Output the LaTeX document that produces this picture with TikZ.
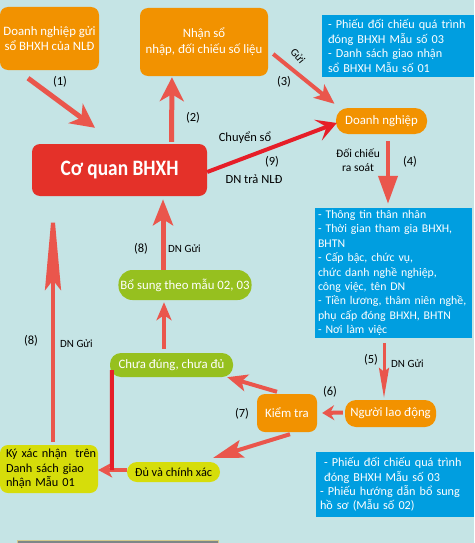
\documentclass[tikz,border=0pt]{standalone}
\usepackage{fontspec}
\setmainfont{Carlito}
\newfontfamily\cqfont{Carlito}[FakeStretch=0.88]
\usetikzlibrary{arrows.meta}
\definecolor{bgc}{RGB}{197,228,229}
\definecolor{orc}{RGB}{242,146,0}
\definecolor{redc}{RGB}{228,49,41}
\definecolor{bluec}{RGB}{0,158,224}
\definecolor{greenc}{RGB}{150,192,31}
\definecolor{yelc}{RGB}{214,221,10}
\definecolor{arrc}{RGB}{234,86,76}
\definecolor{darkr}{RGB}{230,30,40}
\definecolor{barc}{RGB}{125,135,135}
\definecolor{barb}{RGB}{210,200,140}
\tikzset{
  box/.style={rounded corners=8pt, inner sep=2pt, align=center, text=white},
  obox/.style={box, fill=orc},
  gbox/.style={box, fill=greenc, rounded corners=11pt},
  ybox/.style={box, fill=yelc, text=black},
  bbox/.style={fill=bluec, text=white, align=left, inner sep=0pt,
    font=\fontsize{12.2}{14.4}\selectfont},
  lbl/.style={font=\fontsize{12.5}{14}\selectfont, text=black, inner sep=0pt},
  slbl/.style={font=\fontsize{11}{14}\selectfont, text=black, inner sep=0pt},
  fat/.style={draw=arrc, line width=5pt, -{Stealth[length=24pt,width=24pt,inset=7pt]}},
  med/.style={draw=arrc, line width=4pt, -{Stealth[length=20pt,width=17pt,inset=5pt]}},
  thin/.style={draw=arrc, line width=3pt, -{Stealth[length=30pt,width=10pt,inset=4pt]}},
}
\begin{document}
\begin{tikzpicture}[x=1pt,y=-1pt]
\useasboundingbox (0,0) rectangle (474,543);
\fill[bgc] (0,0) rectangle (474,543);
\filldraw[fill=barc, draw=barb, line width=0.8pt] (17,540.5) rectangle (218,545);

% nodes
\node[obox, minimum width=99pt, minimum height=63pt, font=\fontsize{12.8}{15}\selectfont] (dn1) at (49.5,38.5) {Doanh nghiệp gửi\\sổ BHXH của NLĐ};
\node[obox, minimum width=128pt, minimum height=68pt, font=\fontsize{12.8}{16}\selectfont] (nhan) at (204,42) {Nhận sổ\\nhập, đối chiếu số liệu};
\node[bbox, minimum width=152pt, minimum height=62pt, text width=140pt] (b1) at (398,46) {- Phiếu đối chiếu quá trình\\đóng BHXH Mẫu số 03\\- Danh sách giao nhận\\sổ BHXH Mẫu số 01};
\node[obox, rounded corners=12pt, minimum width=91pt, minimum height=26pt, font=\fontsize{12.8}{14}\selectfont] (dn) at (381.5,121) {Doanh nghiệp};
\node[box, fill=redc, minimum width=175pt, minimum height=52pt, font=\cqfont\bfseries\fontsize{22}{24}\selectfont] (cq) at (119.5,170) {Cơ quan BHXH};
\node[bbox, minimum width=157pt, minimum height=130pt, text width=151pt, font=\fontsize{11.8}{14.4}\selectfont] (info) at (393.5,273) {- Thông tin thân nhân\\- Thời gian tham gia BHXH,\\BHTN\\- Cấp bậc, chức vụ,\\chức danh nghề nghiệp,\\công việc, tên DN\\- Tiền lương, thâm niên nghề,\\phụ cấp đóng BHXH, BHTN\\- Nơi làm việc};
\node[obox, rounded corners=11pt, minimum width=91pt, minimum height=27pt, font=\fontsize{12.8}{14}\selectfont] (nld) at (390.5,413.5) {Người lao động};
\node[obox, minimum width=60pt, minimum height=38pt, font=\fontsize{12.8}{14}\selectfont] (kt) at (287,413) {Kiểm tra};
\node[gbox, minimum width=123pt, minimum height=24pt, font=\fontsize{12.8}{14}\selectfont] (chua) at (171.5,365) {Chưa đúng, chưa đủ};
\node[gbox, rounded corners=14pt, minimum width=130pt, minimum height=30pt, font=\fontsize{12.8}{14}\selectfont] (bs) at (185,285) {Bổ sung theo mẫu 02, 03};
\node[ybox, rounded corners=10pt, minimum width=93pt, minimum height=20pt, font=\fontsize{12.3}{14}\selectfont] (du) at (173.5,472) {Đủ và chính xác};
\node[ybox, align=left, minimum width=98pt, minimum height=48pt, text width=86pt, font=\fontsize{12.3}{14.5}\selectfont] (ky) at (49,469) {\mbox{Ký xác nhận\ \ trên}\\Danh sách giao\\nhận Mẫu 01};
\node[bbox, minimum width=158pt, minimum height=65pt, text width=150pt] (b2) at (395,484.5) {\ - Phiếu đối chiếu quá trình\\\ đóng BHXH Mẫu số 03\\- Phiếu hướng dẫn bổ sung\\hồ sơ (Mẫu số 02)};

% connectors
\draw[fat] ([shift={(-21.5,8)}]dn1.south) -- ([shift={(-24.5,-16)}]cq.north);
\draw[fat] ([shift={(52,-2)}]cq.north) -- ([shift={(-32,1)}]nhan.south);
\draw[med] ([shift={(5,12)}]nhan.east) -- ([shift={(-47,-4)}]dn.north);
\draw[draw=darkr, line width=4pt, -{Stealth[length=20pt,width=22pt,inset=9pt]}] ([shift={(0,2)}]cq.east) -- ([shift={(1,2)}]dn.west);
\draw[med, -{Triangle[length=28pt,width=19pt]}] ([shift={(6.5,7)}]dn.south) -- ([shift={(-5.5,-4)}]info.north);
\draw[thin] ([shift={(-9.5,5)}]info.south) -- ([shift={(-6.5,-2)}]nld.north);
\draw[med, -{Stealth[length=12pt,width=15pt,inset=4pt]}] ([shift={(-2,-1)}]nld.west) -- ([shift={(5,0)}]kt.east);
\draw[med] ([shift={(-10,-2)}]kt.north) -- ([shift={(-6,0)}]chua.south east);
\draw[med, -{Stealth[length=30pt,width=18pt,inset=6pt]}] ([shift={(3,2)}]kt.south) -- ([shift={(-7,-4)}]du.north east);
\draw[med, -{Stealth[length=18pt,width=15pt,inset=5pt]}] ([shift={(-7.5,-4)}]chua.north) -- ([shift={(-21,2)}]bs.south);
\draw[fat, -{Stealth[length=26pt,width=20pt,inset=6pt]}] ([shift={(-22,0)}]bs.north) -- ([shift={(43.5,3)}]cq.south);
\draw[thin, line width=4pt, -{Stealth[length=90pt,width=16pt,inset=10pt]}] ([shift={(4,-3)}]ky.north) -- ([shift={(-66.5,4)}]cq.south);
\draw[med, -{Stealth[length=14pt,width=15pt,inset=4pt]}] ([shift={(0,-2)}]du.west) -- ([shift={(0,1)}]ky.east);
\coordinate (corner) at (112,470);
\draw[darkr, line width=4pt] ([shift={(2,-7)}]chua.south west) -- (corner);

% labels
\node[lbl] (l1) at (60,82) {(1)};
\node[lbl] (l2) at (193,118) {(2)};
\node[lbl] (l3) at (284,82) {(3)};
\node[slbl, rotate=-50] (lg) at (298,56) {Gửi};
\node[lbl] (lcs) at (245,138) {Chuyển sổ};
\node[lbl] (l9) at (272,162) {(9)};
\node[lbl] (ltra) at (254,179) {DN trả NLĐ};
\node[slbl, align=center, font=\fontsize{11.5}{14}\selectfont] (ldc) at (358,160) {Đối chiếu\\ra soát};
\node[lbl] (l4) at (410,162) {(4)};
\node[lbl] (l5) at (371,360) {(5)};
\node[slbl, anchor=west] (lg5) at (391,364) {DN Gửi};
\node[lbl] (l6) at (330,392) {(6)};
\node[lbl] (l7) at (242,414) {(7)};
\node[lbl] (l8) at (141,249) {(8)};
\node[slbl, anchor=west] (lg8) at (168,249) {DN Gửi};
\node[lbl] (l8b) at (31,341) {(8)};
\node[slbl, anchor=west] (lg8b) at (60,344) {DN Gửi};
\end{tikzpicture}
\end{document}
